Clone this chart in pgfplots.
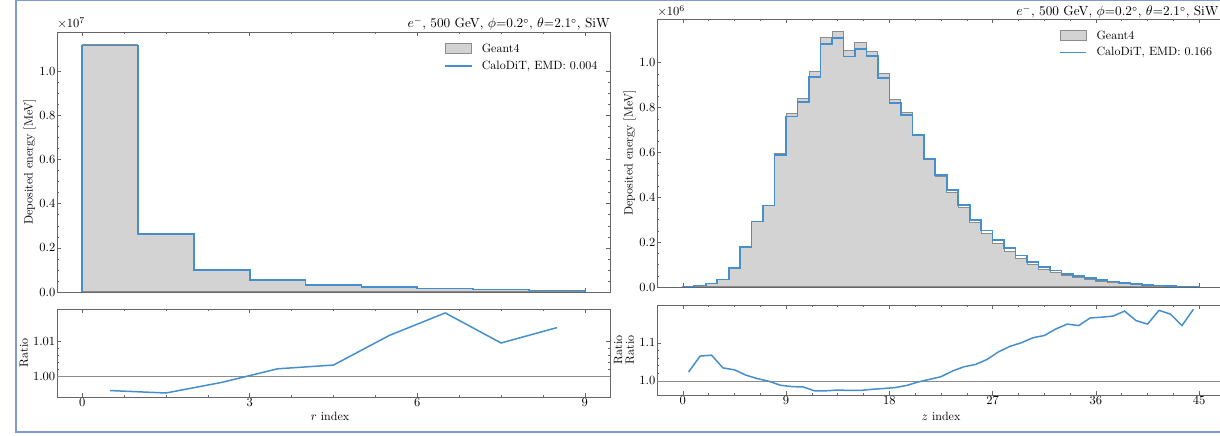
\documentclass[border=0pt]{standalone}
\usepackage{pgfplots}
\pgfplotsset{compat=1.18}

\definecolor{geantfill}{RGB}{211,211,211}
\definecolor{geantedge}{RGB}{140,140,140}
\definecolor{calodit}{RGB}{70,143,204}
\definecolor{framecol}{RGB}{125,155,205}
\newcommand\lf{\fontsize{9.6}{11}\selectfont}
\newcommand\tf{\fontsize{10}{11}\selectfont}
\newcommand\hf{\fontsize{10.6}{12}\selectfont}

\pgfplotsset{
	calo/.style={
		scale only axis,
		anchor=south west,
		clip mode=individual,
		tick align=inside,
		tick pos=both,
		axis line style={black!60},
		every tick/.style={black!60, thin},
		major tick length=3pt,
		minor tick length=1.6pt,
		tick label style={font=\tf, inner sep=1.2pt},
		xticklabel style={inner sep=0pt, yshift=-1.2pt},
		scaled y ticks=false,
		legend cell align=left,
		legend style={draw=none, fill=none, font=\lf, inner sep=0pt,
			row sep=1.2pt, column sep=5.5pt, anchor=north east},
	},
	g4/.style={const plot, fill=geantfill, draw=geantedge, line width=0.8pt,
		legend image code/.code={\draw[##1] (0pt,-3.5pt) rectangle (21pt,4.5pt);}},
	cdt/.style={const plot, draw=calodit, line width=1.3pt,
		legend image code/.code={\draw[##1] (0pt,0pt) -- (21pt,0pt);}},
	ratioline/.style={draw=calodit, line width=1.2pt},
	oneline/.style={black!45, line width=0.6pt, forget plot},
}
\newcommand\runinfo{$e^-$, 500 GeV, $\phi$=0.2$^\circ$, $\theta$=2.1$^\circ$, SiW}

\begin{document}
\begin{tikzpicture}
\path[use as bounding box] (0pt,0pt) rectangle (976pt,348pt);
\clip (0pt,0pt) rectangle (976pt,348pt);

% ---------- left: r index ----------
\begin{axis}[calo,
	at={(45.6pt,114.4pt)}, width=442.4pt, height=208pt,
	xmin=-0.45, xmax=9.45, ymin=0, ymax=1.178,
	xtick={0,3,6,9}, xticklabels={}, minor x tick num=3,
	ytick={0,0.2,0.4,0.6,0.8,1.0}, minor y tick num=3,
	yticklabel style={/pgf/number format/.cd, fixed, fixed zerofill, precision=1},
	legend style={at={(rel axis cs:0.982,0.965)}},
]
\addplot[g4] coordinates {
(0,1.122) (1,0.264) (2,0.101) (3,0.054) (4,0.033) (5,0.0225) (6,0.016) (7,0.0105) (8,0.0062) (9,0.0062)
} \closedcycle;
\addlegendentry{Geant4}
\addplot[cdt] coordinates {
(0,0) (0,1.1174) (1,0.2627) (2,0.1008) (3,0.0541) (4,0.0331) (5,0.0228) (6,0.0163) (7,0.0106) (8,0.0063) (9,0.0063) (9,0)
};
\addlegendentry{CaloDiT, EMD: 0.004}
\node[anchor=base west, inner sep=0pt, font=\lf, yshift=3.4pt] at (rel axis cs:0,1) {$\times10^{7}$};
\node[anchor=base east, inner sep=0pt, font=\hf, yshift=3.2pt] at (rel axis cs:1,1) {\runinfo};
\end{axis}

\begin{axis}[calo,
	at={(45.6pt,30.4pt)}, width=442.4pt, height=70.4pt,
	xmin=-0.45, xmax=9.45, ymin=0.99408, ymax=1.0192,
	xtick={0,3,6,9}, minor x tick num=3,
	ytick={1.00,1.01}, minor y tick num=4,
	yticklabel style={/pgf/number format/.cd, fixed, fixed zerofill, precision=2},
]
\addplot[oneline] coordinates {(-0.45,1) (9.45,1)};
\addplot[ratioline] coordinates {
(0.5,0.99592) (1.5,0.99522) (2.5,0.99825) (3.5,1.00213) (4.5,1.00320)
(5.5,1.01166) (6.5,1.01808) (7.5,1.00950) (8.5,1.01388)
};
\end{axis}

% ---------- right: z index ----------
\begin{axis}[calo,
	at={(525.6pt,118.4pt)}, width=454.4pt, height=214.4pt,
	xmin=-2.25, xmax=47.25, ymin=0, ymax=1.195,
	xtick={0,9,18,27,36,45}, xticklabels={}, minor x tick num=3,
	ytick={0,0.2,0.4,0.6,0.8,1.0}, minor y tick num=3,
	yticklabel style={/pgf/number format/.cd, fixed, fixed zerofill, precision=1},
	legend style={at={(rel axis cs:0.982,0.967)}},
]
\addplot[g4] table {
x y
0 0.0015
1 0.0070
2 0.0150
3 0.0320
4 0.0820
5 0.1750
6 0.2900
7 0.3630
8 0.5950
9 0.7720
10 0.8390
11 0.9630
12 1.1130
13 1.1380
14 1.0550
15 1.0890
16 1.0520
17 0.9510
18 0.8360
19 0.7770
20 0.6800
21 0.5690
22 0.4940
23 0.4220
24 0.3530
25 0.2860
26 0.2390
27 0.1950
28 0.1590
29 0.1270
30 0.1000
31 0.0790
32 0.0650
33 0.0505
34 0.0420
35 0.0335
36 0.0266
37 0.0214
38 0.0152
39 0.0112
40 0.0078
41 0.0050
42 0.0034
43 0.0024
44 0.0016
45 0.0016
} \closedcycle;
\addlegendentry{Geant4}
\addplot[cdt] table {
x y
0 0
0 0.0015
1 0.0075
2 0.0160
3 0.0331
4 0.0844
5 0.1776
6 0.2915
7 0.3626
8 0.5882
9 0.7604
10 0.8256
11 0.9377
12 1.0841
13 1.1107
14 1.0286
15 1.0618
16 1.0289
17 0.9320
18 0.8214
19 0.7677
20 0.6780
21 0.5713
22 0.4994
23 0.4330
24 0.3661
25 0.2983
26 0.2524
27 0.2098
28 0.1734
29 0.1397
30 0.1113
31 0.0884
32 0.0738
33 0.0580
34 0.0481
35 0.0390
36 0.0310
37 0.0250
38 0.0180
39 0.0130
40 0.0090
41 0.0059
42 0.0040
43 0.0027
44 0.0019
45 0.0019
45 0
};
\addlegendentry{CaloDiT, EMD: 0.166}
\node[anchor=base west, inner sep=0pt, font=\lf, yshift=2.6pt] at (rel axis cs:0,1) {$\times10^{6}$};
\node[anchor=base east, inner sep=0pt, font=\hf, yshift=2.4pt, xshift=-5pt] at (rel axis cs:1,1) {\runinfo};
\end{axis}

\begin{axis}[calo,
	at={(525.6pt,32pt)}, width=454.4pt, height=72pt,
	xmin=-2.25, xmax=47.25, ymin=0.963, ymax=1.199,
	xtick={0,9,18,27,36,45}, minor x tick num=3,
	ytick={1.0,1.1}, minor y tick num=4,
	yticklabel style={/pgf/number format/.cd, fixed, fixed zerofill, precision=1},
]
\addplot[oneline] coordinates {(-2.25,1) (47.25,1)};
\addplot[ratioline] table {
x y
0.5 1.023
1.5 1.065
2.5 1.0675
3.5 1.034
4.5 1.029
5.5 1.015
6.5 1.006
7.5 0.999
8.5 0.9886
9.5 0.985
10.5 0.984
11.5 0.9737
12.5 0.974
13.5 0.976
14.5 0.975
15.5 0.975
16.5 0.978
17.5 0.980
18.5 0.9825
19.5 0.988
20.5 0.997
21.5 1.004
22.5 1.011
23.5 1.026
24.5 1.037
25.5 1.043
26.5 1.056
27.5 1.076
28.5 1.0905
29.5 1.100
30.5 1.113
31.5 1.119
32.5 1.136
33.5 1.149
34.5 1.145
35.5 1.165
36.5 1.167
37.5 1.170
38.5 1.183
39.5 1.158
40.5 1.149
41.5 1.185
42.5 1.175
43.5 1.145
44.5 1.188
};
\end{axis}

% axis labels
\node[rotate=90, font=\lf] at (23.7pt,218.4pt) {Deposited energy [MeV]};
\node[rotate=90, font=\lf] at (19.2pt,65.6pt) {Ratio};
\node[font=\lf] at (264pt,15.2pt) {$r$ index};
\node[rotate=90, font=\lf] at (503.6pt,225.6pt) {Deposited energy [MeV]};
\node[rotate=90, font=\fontsize{9.6}{9.4}\selectfont, align=center] at (499.2pt,68pt) {Ratio\\Ratio};
\node[font=\lf] at (752.8pt,15.2pt) {$z$ index};

% screenshot frame
\draw[framecol, line width=1.2pt] (12.8pt,2.4pt) rectangle (1000pt,347.4pt);
\end{tikzpicture}
\end{document}
